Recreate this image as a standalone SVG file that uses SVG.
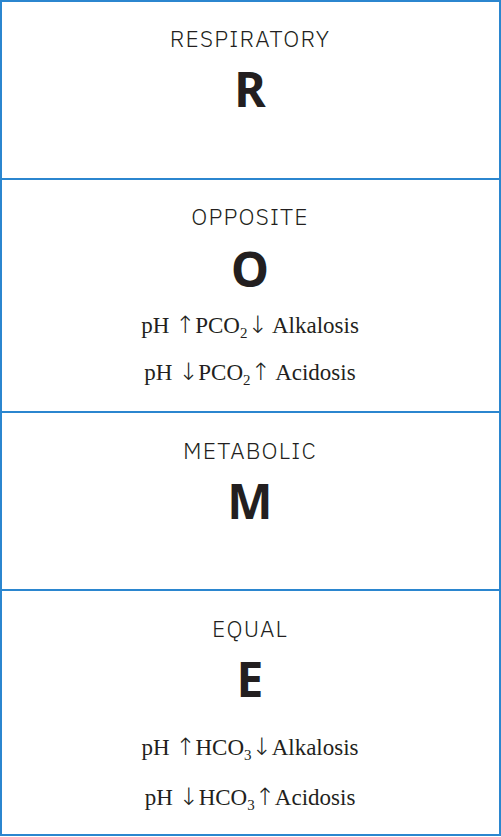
<svg xmlns="http://www.w3.org/2000/svg" width="501" height="837" viewBox="0 0 501 837">
<style>
.box{fill:#fff;stroke:#2b86cf;stroke-width:2}
.lbl{font-family:"IBM Plex Sans","Noto Sans","Liberation Sans",sans-serif;font-size:23px;font-weight:300;fill:#231f20;text-anchor:middle;letter-spacing:1.2px}
.big{font-family:"Noto Sans","Liberation Sans",sans-serif;font-size:48px;font-weight:700;fill:#231f20;text-anchor:middle}
.f{font-family:"Liberation Serif",serif;font-size:23px;fill:#231f20;text-anchor:middle}
.sub{font-size:15px}
.ar{font-family:"DejaVu Sans",sans-serif;font-weight:200;font-size:24px}
</style>
<rect width="501" height="837" fill="#fff"/>
<g id="node-r">
<rect class="box" x="1" y="1" width="499" height="178"/>
<text class="lbl" x="250" y="47">RESPIRATORY</text>
<text class="big" x="250" y="107">R</text>
</g>
<g id="node-o">
<rect class="box" x="1" y="179" width="499" height="233"/>
<text class="lbl" x="250" y="225">OPPOSITE</text>
<text class="big" x="250" y="287">O</text>
<text class="f" x="250" y="333">pH <tspan class="ar">↑</tspan>PCO<tspan class="sub" dy="5">2</tspan><tspan class="ar" dy="-5">↓</tspan> Alkalosis</text>
<text class="f" x="250" y="380">pH <tspan class="ar">↓</tspan>PCO<tspan class="sub" dy="5">2</tspan><tspan class="ar" dy="-5">↑</tspan> Acidosis</text>
</g>
<g id="node-m">
<rect class="box" x="1" y="412" width="499" height="178"/>
<text class="lbl" x="250" y="459">METABOLIC</text>
<text class="big" x="250" y="519">M</text>
</g>
<g id="node-e">
<rect class="box" x="1" y="590" width="499" height="245"/>
<text class="lbl" x="250" y="637">EQUAL</text>
<text class="big" x="250" y="697">E</text>
<text class="f" x="250" y="755">pH <tspan class="ar">↑</tspan>HCO<tspan class="sub" dy="5">3</tspan><tspan class="ar" dy="-5">↓</tspan>Alkalosis</text>
<text class="f" x="250" y="805">pH <tspan class="ar">↓</tspan>HCO<tspan class="sub" dy="5">3</tspan><tspan class="ar" dy="-5">↑</tspan>Acidosis</text>
</g>
<g id="connectors"/>
</svg>
